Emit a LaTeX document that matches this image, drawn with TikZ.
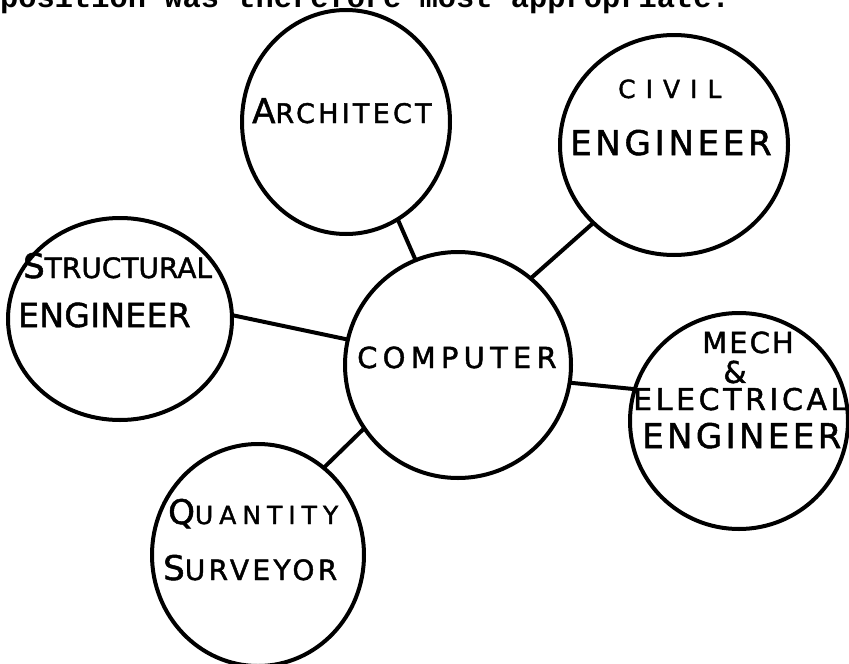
\documentclass[tikz,border=0pt]{standalone}
\usepackage{fontspec}
\setmonofont{Liberation Mono}
\newfontfamily\handfont[FakeBold=1.5]{DejaVu Sans}
\usetikzlibrary{shapes.geometric}
\newcommand\bigch[2]{{\fontsize{#1}{#1}\selectfont #2}}
\newcommand\hand[2]{\handfont\fontsize{#1}{#1}\selectfont\addfontfeature{LetterSpace=#2}}
\begin{document}
\begin{tikzpicture}[x=1pt,y=-1pt,
    bubble/.style={draw, ellipse, line width=4pt, inner sep=0pt, outer sep=0pt},
    link/.style={line width=4pt},
    word/.style={anchor=base west, inner sep=0pt}]
    \clip (0,0) rectangle (849,664);
    \useasboundingbox (0,0) rectangle (849,664);
    \node[anchor=base west, inner sep=0pt, font=\ttfamily\bfseries\fontsize{30.4}{32}\selectfont] (intro) at (0,7) {position was therefore most appropriate.};

    \node[bubble, minimum width=208pt, minimum height=224pt] (arch) at (346,122) {};
    \node[bubble, minimum width=228pt, minimum height=220pt] (civil) at (674,145) {};
    \node[bubble, minimum width=224pt, minimum height=202pt] (struct) at (120,319) {};
    \node[bubble, minimum width=226pt, minimum height=226pt] (comp) at (458,365) {};
    \node[bubble, minimum width=218pt, minimum height=216pt] (mech) at (739,421) {};
    \node[bubble, minimum width=212pt, minimum height=222pt] (quant) at (258,555) {};

    \draw[link] (arch.-62) -- (comp.112);
    \draw[link] (civil.224) -- (comp.50);
    \draw[link] (struct.2) -- (comp.167);
    \draw[link] (comp.-9) -- (mech.163);
    \draw[link] (comp.214) -- (quant.53);

    \node[word, font=\hand{27}{12}] (archtxt) at (252,123) {\bigch{34}{A}RCHITECT};
    \node[word, font=\hand{25}{40}] (civiltxt) at (618,98) {CIVIL};
    \node[word, font=\hand{34}{11}] (civileng) at (570,155) {ENGINEER};
    \node[word, font=\hand{28}{0}] (structtxt) at (23,278) {\bigch{34}{S}TRUCTURAL};
    \node[word, font=\hand{33}{1}] (structeng) at (18,327) {ENGINEER};
    \node[word, font=\hand{29}{18}] (comptxt) at (357,368) {COMPUTER};
    \node[word, font=\hand{29}{7}] (mechtxt) at (702,353) {MECH};
    \node[inner sep=0pt, font=\hand{30}{0}] (amp) at (735,372) {\&};
    \node[word, font=\hand{30}{12}] (electxt) at (633,410) {ELECTRICAL};
    \node[word, font=\hand{34}{10}] (mecheng) at (642,448) {ENGINEER};
    \node[word, font=\hand{25}{24}] (quanttxt) at (168,524) {\bigch{34}{Q}UANTITY};
    \node[word, font=\hand{28}{12}] (survtxt) at (163,580) {\bigch{34}{S}URVEYOR};
\end{tikzpicture}
\end{document}
